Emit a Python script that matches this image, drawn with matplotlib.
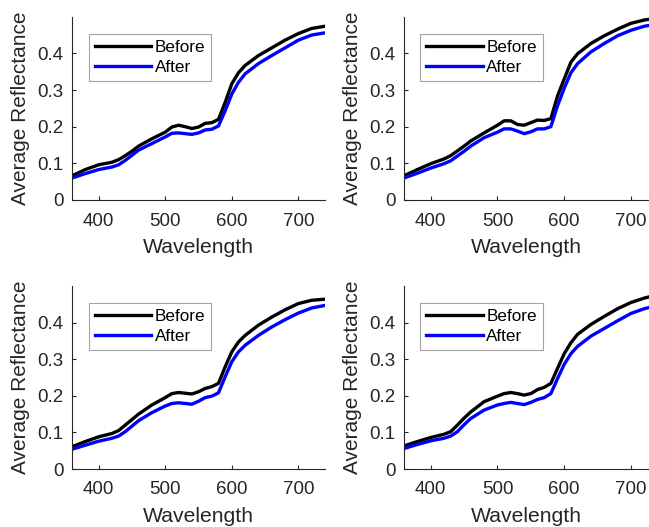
import matplotlib
matplotlib.use("Agg")
import matplotlib.pyplot as plt

plt.rcParams['font.family'] = ['Liberation Sans', 'DejaVu Sans']

wl = [360, 380, 400, 420, 430, 440, 450, 460, 480, 500, 510, 520, 530, 540, 550,
      560, 570, 580, 590, 600, 610, 620, 640, 660, 680, 700, 720, 740]

before_1 = [0.066, 0.083, 0.096, 0.103, 0.110, 0.121, 0.133, 0.147, 0.167, 0.185, 0.199, 0.204, 0.200, 0.195, 0.199,
            0.209, 0.211, 0.220, 0.266, 0.317, 0.347, 0.367, 0.394, 0.415, 0.436, 0.454, 0.468, 0.474]
after_1 = [0.060, 0.072, 0.083, 0.090, 0.096, 0.108, 0.122, 0.136, 0.154, 0.172, 0.182, 0.183, 0.181, 0.179, 0.183,
           0.191, 0.193, 0.202, 0.243, 0.289, 0.321, 0.344, 0.372, 0.394, 0.415, 0.436, 0.450, 0.456]

before_2 = [0.066, 0.083, 0.099, 0.112, 0.121, 0.134, 0.147, 0.161, 0.183, 0.204, 0.216, 0.216, 0.206, 0.204, 0.211,
            0.218, 0.217, 0.222, 0.284, 0.330, 0.376, 0.399, 0.427, 0.448, 0.466, 0.482, 0.491, 0.496]
after_2 = [0.060, 0.073, 0.087, 0.099, 0.107, 0.120, 0.133, 0.147, 0.170, 0.185, 0.194, 0.194, 0.188, 0.181, 0.186,
           0.194, 0.194, 0.200, 0.257, 0.305, 0.347, 0.372, 0.404, 0.427, 0.448, 0.463, 0.474, 0.480]

before_3 = [0.061, 0.075, 0.088, 0.097, 0.105, 0.120, 0.135, 0.150, 0.175, 0.195, 0.206, 0.209, 0.207, 0.205, 0.211,
            0.220, 0.225, 0.234, 0.279, 0.320, 0.347, 0.365, 0.393, 0.415, 0.435, 0.452, 0.461, 0.464]
after_3 = [0.054, 0.065, 0.076, 0.084, 0.090, 0.102, 0.117, 0.132, 0.154, 0.172, 0.179, 0.181, 0.179, 0.177, 0.185,
           0.195, 0.199, 0.208, 0.252, 0.293, 0.320, 0.338, 0.365, 0.388, 0.408, 0.426, 0.440, 0.447]

before_4 = [0.063, 0.075, 0.086, 0.095, 0.102, 0.120, 0.139, 0.156, 0.184, 0.199, 0.206, 0.209, 0.206, 0.202, 0.206,
            0.217, 0.223, 0.234, 0.275, 0.315, 0.345, 0.368, 0.395, 0.417, 0.438, 0.455, 0.467, 0.476]
after_4 = [0.056, 0.067, 0.077, 0.084, 0.090, 0.102, 0.121, 0.138, 0.161, 0.175, 0.179, 0.182, 0.179, 0.176, 0.182,
           0.190, 0.195, 0.206, 0.247, 0.286, 0.315, 0.335, 0.363, 0.384, 0.405, 0.425, 0.438, 0.447]

series = [(before_1, after_1), (before_2, after_2), (before_3, after_3), (before_4, after_4)]
xlims = [(360, 740), (360, 727), (360, 740), (360, 727)]
xticks = [400, 500, 600, 700]
yticks = [0, 0.1, 0.2, 0.3, 0.4]
ytick_labels = ['0', '0.1', '0.2', '0.3', '0.4']

W, H = 649, 527
fig = plt.figure(figsize=(W / 100, H / 100), dpi=100)

# axes boxes in pixels: (left, top, right, bottom)
boxes = [(72, 16.7, 325, 200), (404, 16.7, 649, 200),
         (72, 286, 325, 469), (404, 286, 649, 469)]

gray = '#262626'
for i, (b, a) in enumerate(series):
    l, t, r, bt = boxes[i]
    ax = fig.add_axes([l / W, 1 - bt / H, (r - l) / W, (bt - t) / H])
    ax.plot(wl, b, color='black', lw=2.4, label='Before', solid_joinstyle='round')
    ax.plot(wl, a, color='#0000ff', lw=2.4, label='After', solid_joinstyle='round')
    ax.set_xlim(*xlims[i])
    ax.set_ylim(0, 0.5)
    ax.set_xticks(xticks)
    ax.set_yticks(yticks)
    ax.set_yticklabels(ytick_labels)
    for s in ['top', 'right']:
        ax.spines[s].set_visible(False)
    for s in ['left', 'bottom']:
        ax.spines[s].set_color(gray)
        ax.spines[s].set_linewidth(0.8)
    ax.tick_params(direction='in', length=3, width=0.8, colors=gray, labelsize=13.5)
    ax.tick_params(axis='x', pad=9)
    ax.tick_params(axis='y', pad=6)
    ax.set_xlabel('Wavelength', fontsize=15.2, color=gray, labelpad=6)
    ax.set_ylabel('Average Reflectance', fontsize=15, color=gray, labelpad=5)
    leg = ax.legend(loc='upper left', bbox_to_anchor=(0.067, 0.906), borderaxespad=0,
                    fontsize=12.3, frameon=True, fancybox=False, edgecolor='#8c8c8c',
                    handlelength=3.3, handletextpad=0.2, borderpad=0.35, labelspacing=0.3)
    leg.get_frame().set_linewidth(0.8)
    for txt in leg.get_texts():
        txt.set_color('black')

fig.savefig('out.png', dpi=100)
